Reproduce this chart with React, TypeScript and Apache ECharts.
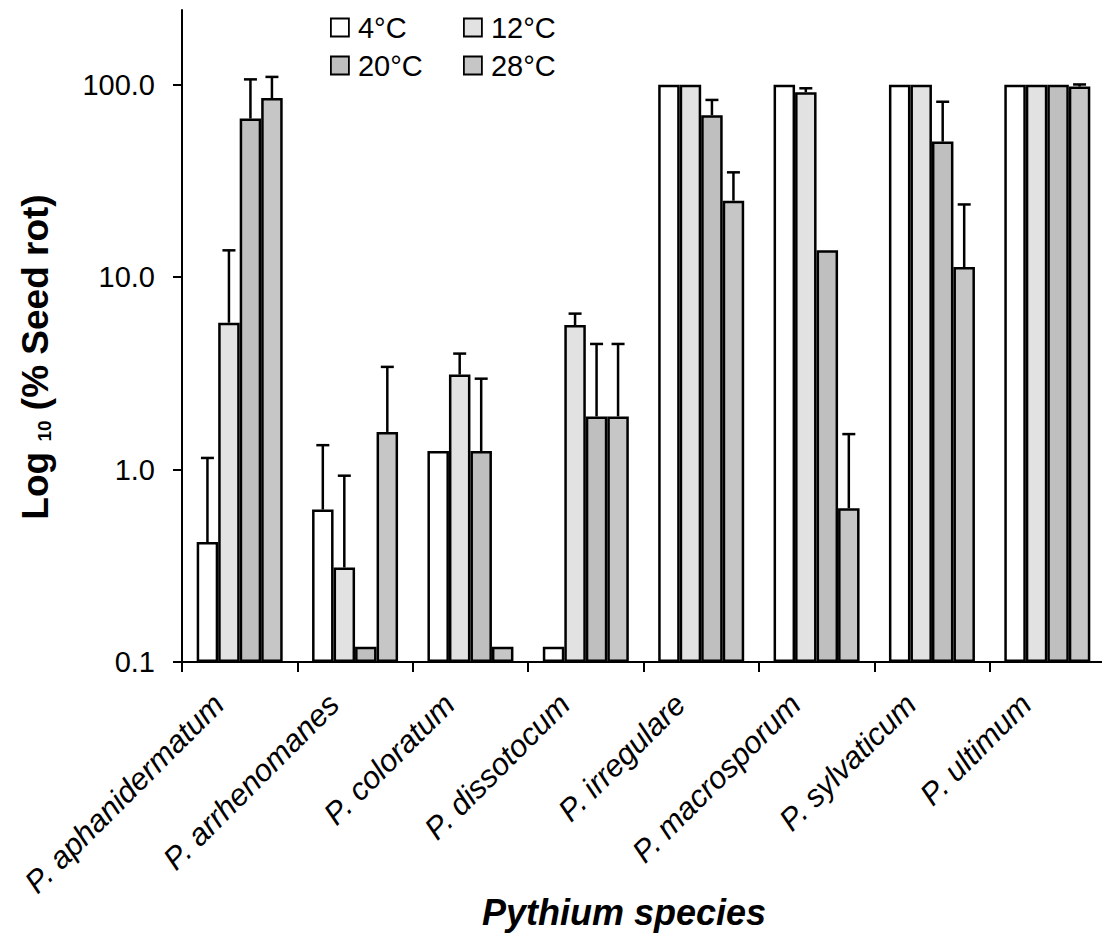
import React, { useEffect, useRef } from "react";
import * as echarts from "echarts";

const species = [
  "P. aphanidermatum",
  "P. arrhenomanes",
  "P. coloratum",
  "P. dissotocum",
  "P. irregulare",
  "P. macrosporum",
  "P. sylvaticum",
  "P. ultimum",
];
const tempNames = ["4°C", "12°C", "20°C", "28°C"];

// mean % seed rot
const rot4 = [0.42, 0.62, 1.25, 0.12, 100, 100, 100, 100];
const rot12 = [5.8, 0.31, 3.12, 5.64, 100, 91.6, 100, 100];
const rot20 = [66.8, 0.12, 1.25, 1.89, 69.5, 13.8, 50.7, 100];
const rot28 = [85.4, 1.57, 0.12, 1.89, 25.0, 0.63, 11.3, 98];

// upper error (SE)
const err4 = [0.73, 0.72, 0, 0, 0, 0, 0, 0];
const err12 = [8.0, 0.62, 0.89, 0.83, 0, 4.4, 0, 0];
const err20 = [40, 0, 1.72, 2.61, 14, 0, 31, 0];
const err28 = [24.6, 1.85, 0, 2.61, 10.1, 0.9, 12.6, 2.5];

const yTicks = [0.1, 1, 10, 100];

const FONT = "'Liberation Sans', Arial, Helvetica, sans-serif";
const BAR_W = 21.5;
const fills = ["#ffffff", "#e2e2e2", "#bfbfbf", "#c6c6c6"];

export default function App() {
  const ref = useRef<HTMLDivElement>(null);
  useEffect(() => {
    if (!ref.current) return;
    const chart = echarts.init(ref.current, undefined, { renderer: "svg" });
    const values = [rot4, rot12, rot20, rot28];
    const errs = [err4, err12, err20, err28];

    const barSeries = values.map((vals, si) => ({
      type: "bar",
      name: tempNames[si],
      data: vals,
      barWidth: BAR_W,
      barGap: "0%",
      itemStyle: { color: fills[si], borderColor: "#000", borderWidth: 2.5 },
      emphasis: { disabled: true },
    }));

    const errSeries = values.map((vals, si) => {
      const offset = (si - 1.5) * BAR_W;
      return {
        type: "custom",
        name: tempNames[si] + " error",
        silent: true,
        z: 3,
        encode: { x: 0, y: [1, 2] },
        data: vals.map((v, i) => [i, v, v + errs[si][i]]),
        renderItem: (params: any, api: any) => {
          const v = api.value(1);
          const hi = api.value(2);
          if (!(hi > v)) return { type: "group", children: [] };
          const base = api.coord([api.value(0), v]);
          const top = api.coord([api.value(0), hi]);
          const x = base[0] + offset;
          return {
            type: "group",
            children: [
              {
                type: "line",
                shape: { x1: x, y1: base[1], x2: x, y2: top[1] },
                style: { stroke: "#000", lineWidth: 2.5 },
              },
              {
                type: "line",
                shape: { x1: x - 6.5, y1: top[1], x2: x + 6.5, y2: top[1] },
                style: { stroke: "#000", lineWidth: 2.5 },
              },
            ],
          };
        },
      };
    });

    const legendCommon = {
      orient: "vertical",
      top: 13,
      padding: 0,
      itemWidth: 18,
      itemHeight: 18,
      itemGap: 9,
      icon: "rect",
      selectedMode: false,
      textStyle: {
        fontSize: 29,
        color: "#000",
        fontFamily: FONT,
        lineHeight: 29,
        padding: [0, 0, 0, 4],
      },
      itemStyle: { borderColor: "#000", borderWidth: 1.8 },
    };

    const option: any = {
      animation: false,
      backgroundColor: "#ffffff",
      grid: { left: 182, top: 10, width: 923, height: 652, outerBoundsMode: "none" },
      legend: [
        { ...legendCommon, left: 330, data: [tempNames[0], tempNames[2]] },
        { ...legendCommon, left: 463, data: [tempNames[1], tempNames[3]] },
      ],
      xAxis: {
        type: "category",
        data: species,
        axisLine: { lineStyle: { color: "#000", width: 2 } },
        axisTick: { show: true, length: 10, lineStyle: { color: "#000", width: 2 } },
        axisLabel: {
          rotate: 45,
          interval: 0,
          margin: 16,
          fontSize: 31,
          fontStyle: "italic",
          color: "#000",
          fontFamily: FONT,
          padding: [0, 30, 0, 0],
        },
        splitLine: { show: false },
      },
      yAxis: {
        type: "log",
        logBase: 10,
        min: 0.1,
        max: 245,
        startValue: 0.1,
        axisLine: { show: true, lineStyle: { color: "#000", width: 2 } },
        axisTick: {
          show: true,
          length: 9,
          customValues: yTicks,
          lineStyle: { color: "#000", width: 2 },
        },
        axisLabel: {
          customValues: yTicks,
          formatter: (v: number) => Number(v).toFixed(1),
          margin: 27,
          fontSize: 29,
          color: "#000",
          fontFamily: FONT,
        },
        splitLine: { show: false },
        minorTick: { show: false },
      },
      series: [...barSeries, ...errSeries],
      graphic: [
        {
          type: "text",
          x: 35,
          y: 357,
          rotation: Math.PI / 2,
          silent: true,
          style: {
            text: "{a|Log }{b|10}{a| (% Seed rot)}",
            align: "center",
            verticalAlign: "middle",
            rich: {
              a: { fontSize: 37, fontWeight: "bold", fontFamily: FONT, fill: "#000", lineHeight: 37 },
              b: {
                fontSize: 19,
                fontWeight: "bold",
                fontFamily: FONT,
                fill: "#000",
                lineHeight: 37,
                verticalAlign: "bottom",
              },
            },
          },
        },
        {
          type: "text",
          x: 624,
          y: 912,
          silent: true,
          style: {
            text: "Pythium species",
            fontSize: 36,
            fontWeight: "bold",
            fontStyle: "italic",
            fontFamily: FONT,
            fill: "#000",
            align: "center",
            verticalAlign: "middle",
          },
        },
      ],
    };
    chart.setOption(option);
    return () => chart.dispose();
  }, []);

  return (
    <div
      ref={ref}
      style={{ position: "fixed", left: 0, top: 0, width: 1102, height: 936, background: "#fff" }}
    />
  );
}
